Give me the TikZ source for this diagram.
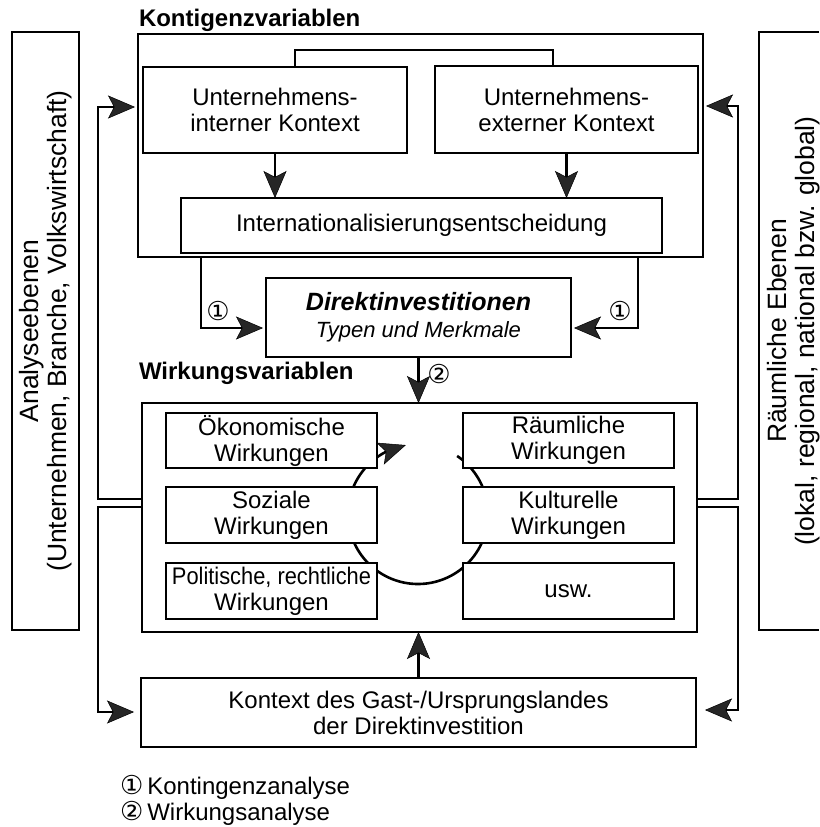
\documentclass[tikz,border=0pt]{standalone}
\usepackage{fontspec}
\setmainfont{Liberation Sans}
\newfontfamily\symfont{DejaVu Sans}
\usetikzlibrary{arrows.meta,bending}

\begin{document}
\begin{tikzpicture}[x=1pt,y=-1pt,
  every node/.style={inner sep=0pt, outer sep=0pt},
  txt/.style={font=\fontsize{24}{26}\selectfont, align=center},
  side/.style={font=\fontsize{26.5}{28}\selectfont, align=center, rotate=90},
  box/.style={txt, draw, line width=1.8pt, fill=white},
  frame/.style={draw, line width=1.8pt},
  conn/.style={line width=2.8pt},
  tip/.tip={Stealth[length=27pt, width=23pt, inset=6pt, line width=0.5pt, fill=black!85]},
  arr/.style={conn, -tip},
  head/.style={font=\fontsize{24}{26}\selectfont\bfseries, anchor=base west},
  cnum/.style={font=\fontsize{26}{28}\symfont},
]
\useasboundingbox (0,0) rectangle (819,827);

% side panels
\node[frame, minimum width=67pt, minimum height=598pt] (analyse) at (45.5,331) {};
\node[side] (analysetxt) at (46,331) {Analyseebenen\\(Unternehmen, Branche, Volkswirtschaft)};
\draw[frame] (819,32) -- (759,32) -- (759,630) -- (819,630);
\node[side] (raumtxt) at (794,331) {Räumliche Ebenen\\(lokal, regional, national bzw. global)};

% contingency block
\node[head] (konttitle) at (139,27) {Kontigenzvariablen};
\node[frame, minimum width=565pt, minimum height=223pt] (kont) at (420.5,145.5) {};
\node[box, minimum width=264pt, minimum height=86pt] (intern) at (275,110) {Unternehmens-\\interner Kontext};
\node[box, minimum width=263pt, minimum height=87pt] (extern) at (566.5,109.5) {Unternehmens-\\externer Kontext};
\node[box, minimum width=481pt, minimum height=55pt] (intl) at (421.5,225.5) {Internationalisierungsentscheidung};

\coordinate (linkL) at (295,50);
\coordinate (linkR) at (553,50);
\draw[conn] (intern.north -| linkL) -- (linkL) -- (linkR) -- (extern.north -| linkR);
\draw[arr] (intern.south) -- (intern.south |- intl.north);
\draw[arr] (extern.south) -- (extern.south |- intl.north);

% direct investment
\node[box, minimum width=305pt, minimum height=79pt] (direkt) at (418.5,317.5)
  {{\bfseries\itshape\fontsize{25}{27}\selectfont Direktinvestitionen}\\[1pt]{\itshape\fontsize{22}{24}\selectfont Typen und Merkmale}};

\coordinate (oneL) at (201,328);
\coordinate (oneR) at (638,328);
\draw[arr, shorten >=3pt] (kont.south -| oneL) -- (oneL) -- (oneL -| direkt.west);
\draw[arr, shorten >=3pt] (kont.south -| oneR) -- (oneR) -- (oneR -| direkt.east);
\node[cnum] (oneLlbl) at (218,311) {①};
\node[cnum] (oneRlbl) at (620,311) {①};

% effects block
\node[head] (wirktitle) at (139,379) {Wirkungsvariablen};
\node[frame, minimum width=555pt, minimum height=229pt] (wirk) at (419.5,517.5) {};
\draw[arr] (direkt.south) -- (direkt.south |- wirk.north);
\node[cnum] (twolbl) at (439,374) {②};

% cycle of effects
\draw[conn, line width=2.6pt, -tip]
  (418,514) ++(-56:70) arc[start angle=-56, end angle=260, radius=70];

\node[box, minimum width=211pt, minimum height=55pt] (oeko) at (271.5,440.5) {Ökonomische\\Wirkungen};
\node[box, minimum width=211pt, minimum height=56pt] (sozial) at (271.5,515) {Soziale\\Wirkungen};
\node[box, minimum width=211pt, minimum height=56pt] (polit) at (271.5,591) {\scalebox{0.91}[1]{Politische, rechtliche}\\Wirkungen};
\node[box, minimum width=211pt, minimum height=55pt] (raeum) at (568.5,440.5) {Räumliche\\Wirkungen};
\node[box, minimum width=211pt, minimum height=56pt] (kultur) at (568.5,515) {Kulturelle\\Wirkungen};
\node[box, minimum width=211pt, minimum height=56pt] (usw) at (568.5,591) {usw.};

% host / home country context
\node[box, minimum width=555pt, minimum height=69pt] (kontext) at (418.5,712.5)
  {Kontext des Gast-/Ursprungslandes\\der Direktinvestition};
\draw[arr] (kontext.north) -- (kontext.north |- wirk.south);

% feedback loops on the left
\coordinate (fbLa) at (98,499);
\coordinate (fbLb) at (98,507);
\coordinate (fbLtop) at (98,107);
\coordinate (fbLbot) at (98,712);
\draw[arr, shorten >=3pt] (wirk.west |- fbLa) -- (fbLa) -- (fbLtop) -- (fbLtop -| kont.west);
\draw[arr, shorten >=7pt] (wirk.west |- fbLb) -- (fbLb) -- (fbLbot) -- (fbLbot -| kontext.west);

% feedback loops on the right
\coordinate (fbRa) at (738,499);
\coordinate (fbRb) at (738,507);
\coordinate (fbRtop) at (738,106);
\coordinate (fbRbot) at (738,710);
\draw[arr, shorten >=3pt] (wirk.east |- fbRa) -- (fbRa) -- (fbRtop) -- (fbRtop -| kont.east);
\draw[arr, shorten >=9pt] (wirk.east |- fbRb) -- (fbRb) -- (fbRbot) -- (fbRbot -| kontext.east);

% legend
\node[txt, anchor=west] (leg1) at (120,787) {{\symfont\fontsize{26}{26}\selectfont ①}\,Kontingenzanalyse};
\node[txt, anchor=west] (leg2) at (120,813) {{\symfont\fontsize{26}{26}\selectfont ②}\,Wirkungsanalyse};
\end{tikzpicture}
\end{document}
